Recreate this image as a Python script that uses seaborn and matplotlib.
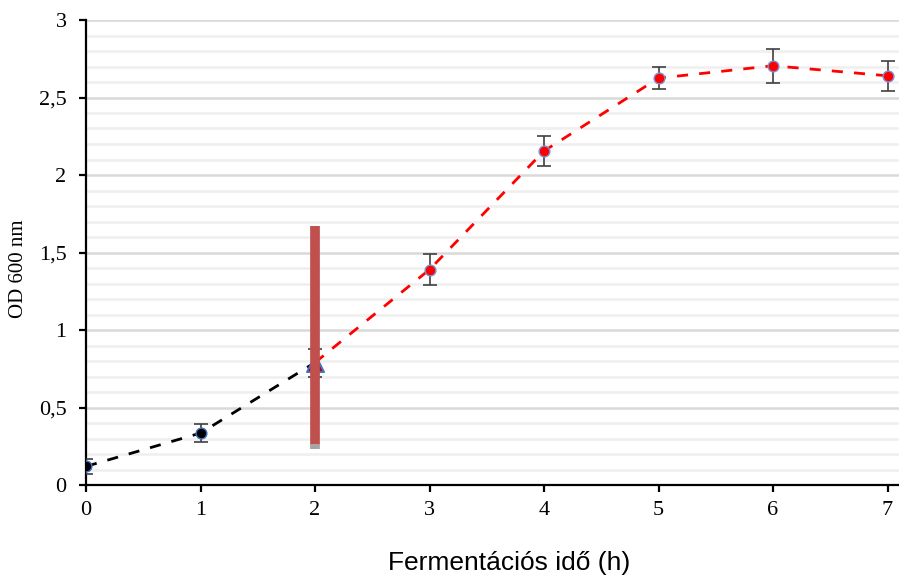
import numpy as np
import pandas as pd
import matplotlib
matplotlib.use("Agg")
import matplotlib.pyplot as plt
import seaborn as sns
from matplotlib.ticker import MultipleLocator, FuncFormatter

# Fermentation growth curve (OD600 over time)
hours = [0, 1, 2, 3, 4, 5, 6, 7]
od600 = [0.12, 0.335, 0.79, 1.39, 2.155, 2.625, 2.705, 2.64]
od_err = [0.05, 0.06, 0.09, 0.10, 0.095, 0.07, 0.11, 0.095]

# Induction marker at 2 h
induction_time = 2
induction_low = 0.23
induction_high = 1.67

x_ticks = [0, 1, 2, 3, 4, 5, 6, 7]
y_ticks = [0, 0.5, 1, 1.5, 2, 2.5, 3]

sns.set_theme(style="white")
plt.rcParams["font.family"] = ["Liberation Serif", "DejaVu Serif"]
plt.rcParams["text.color"] = "black"
plt.rcParams["axes.labelcolor"] = "black"
plt.rcParams["xtick.color"] = "black"
plt.rcParams["ytick.color"] = "black"

df = pd.DataFrame({"t": hours, "od": od600, "err": od_err})
pre = df[df["t"] <= induction_time]
post = df[df["t"] >= induction_time]

fig = plt.figure(figsize=(8.99, 5.78), dpi=100)
ax = fig.add_axes([86 / 899, 1 - 485 / 578, 1 - 86 / 899, (485 - 20) / 578])

# grid: light minor lines every 0.1, darker major every 0.5
ax.set_ylim(0, 3)
ax.set_xlim(0, 7.1)
ax.yaxis.set_major_locator(MultipleLocator(0.5))
ax.yaxis.set_minor_locator(MultipleLocator(0.1))
ax.grid(which="minor", axis="y", color="#EFEFEF", lw=1.8, zorder=0)
ax.grid(which="major", axis="y", color="#D9D9D9", lw=1.8, zorder=0)
ax.grid(which="major", axis="x", visible=False)
ax.set_axisbelow(True)

# dashed curve segments
sns.lineplot(data=pre, x="t", y="od", ax=ax, color="black", lw=2,
             linestyle=(0, (4, 4)), zorder=3)
sns.lineplot(data=post, x="t", y="od", ax=ax, color="#FF0000", lw=2,
             linestyle=(0, (4, 4)), zorder=3)

# error bars
ax.errorbar(df["t"], df["od"], yerr=df["err"], fmt="none", ecolor="#404040",
            elinewidth=1.2, capsize=5, capthick=1.2, zorder=4)

# markers
ax.scatter(pre["t"][:-1], pre["od"][:-1], s=60, color="black",
           edgecolor="#4472C4", linewidth=1, zorder=5)
ax.scatter([induction_time], [od600[hours.index(induction_time)]], s=150,
           marker="^", color="#C00000", edgecolor="#4472C4", linewidth=1.4,
           zorder=5)
post_pts = post[post["t"] > induction_time]
ax.scatter(post_pts["t"], post_pts["od"], s=60, color="#FF0000",
           edgecolor="#7F8FD4", linewidth=1, zorder=5)

# induction bar
ax.plot([induction_time, induction_time], [induction_low + 0.03, induction_high],
        color="#C0504D", lw=7, solid_capstyle="butt", zorder=6)
ax.plot([induction_time, induction_time], [induction_low, induction_low + 0.035],
        color="#A5A5A5", lw=7, solid_capstyle="butt", zorder=6)

# axes styling
for side in ["top", "right"]:
    ax.spines[side].set_visible(False)
for side in ["left", "bottom"]:
    ax.spines[side].set_color("black")
    ax.spines[side].set_linewidth(1.6)

ax.set_xticks(x_ticks)
ax.set_yticks(y_ticks)
ax.yaxis.set_major_formatter(FuncFormatter(lambda v, p: f"{v:g}".replace(".", ",")))
ax.tick_params(axis="both", which="major", direction="out", length=5, width=1.6,
               color="black", labelsize=16, left=True, bottom=True)
ax.tick_params(axis="x", pad=6.5)
ax.tick_params(axis="y", pad=9)
ax.tick_params(axis="y", which="minor", length=0)

ax.set_xlabel("Fermentációs idő (h)", family=["Liberation Sans", "DejaVu Sans"],
              fontsize=19)
ax.xaxis.set_label_coords((509 - 86) / (899 - 86), -(563 - 485) / 465)
ax.xaxis.label.set_verticalalignment("center")
ax.set_ylabel("OD 600 nm", fontsize=15)
ax.yaxis.set_label_coords(-(86 - 19) / (899 - 86), (485 - 269) / 465)
ax.yaxis.label.set_verticalalignment("center")

fig.savefig("out.png", dpi=100)
